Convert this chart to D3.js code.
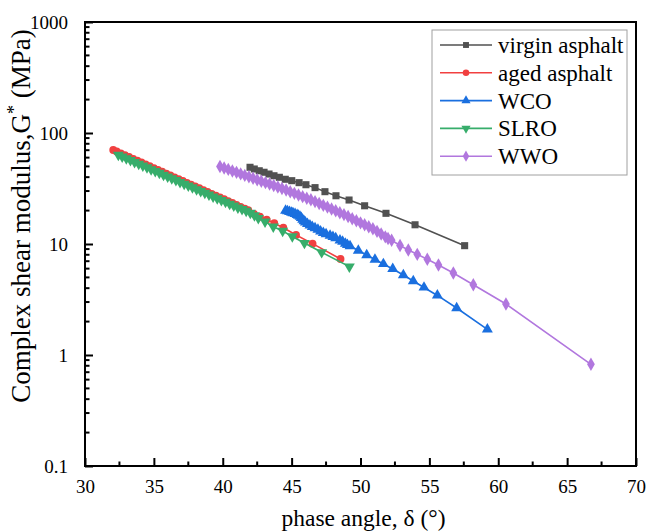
<!DOCTYPE html>
<html>
<head>
<meta charset="utf-8">
<script src="https://cdn.jsdelivr.net/npm/d3@7"></script>
<style>
  body { margin: 0; background: #fff; }
  svg { display: block; }
  text { font-family: "Liberation Serif", "Times New Roman", serif; fill: #000; }
</style>
</head>
<body>
<svg width="648" height="531"></svg>
<script>
// values
const virginX = [41.98, 42.29, 42.65, 43.0, 43.36, 43.72, 44.11, 44.54, 45.01, 45.54, 46.04, 46.7, 47.42, 48.22, 49.17, 50.3, 51.85, 53.96, 57.56]
const virginY = [49.1, 47.4, 45.7, 44.3, 42.7, 41.2, 39.9, 38.3, 37.2, 35.7, 34.2, 32.2, 29.6, 27.2, 24.9, 22.1, 18.9, 14.9, 9.66]

const agedX = [32.05, 32.3, 32.6, 32.9, 33.2, 33.5, 33.8, 34.1, 34.4, 34.7, 35.0, 35.3, 35.6, 35.9, 36.2, 36.5, 36.8, 37.1, 37.4, 37.7, 38.0, 38.3, 38.6, 38.9, 39.2, 39.5, 39.8, 40.1, 40.4, 40.7, 41.0, 41.3, 41.6, 41.85, 42.27, 42.7, 43.19, 43.74, 44.4, 45.32, 46.52, 48.55]
const agedY = [70.3, 68.1, 65.6, 63.1, 60.8, 58.5, 56.3, 54.2, 52.1, 50.2, 48.3, 46.5, 44.8, 43.1, 41.5, 39.9, 38.4, 37.0, 35.6, 34.3, 33.0, 31.8, 30.6, 29.4, 28.3, 27.3, 26.3, 25.3, 24.3, 23.4, 22.5, 21.6, 20.8, 20.2, 18.7, 17.6, 16.6, 15.4, 14.0, 12.05, 10.07, 7.33]

const wcoX = [44.56, 44.7, 44.85, 45.0, 45.1, 45.25, 45.4, 45.5, 45.61, 45.7, 45.8, 45.9, 46.0, 46.15, 46.33, 46.5, 46.7, 46.91, 47.1, 47.3, 47.5, 47.79, 48.0, 48.2, 48.51, 48.7, 48.9, 49.05, 49.24, 49.84, 50.45, 51.05, 51.66, 52.34, 53.11, 53.83, 54.61, 55.58, 56.98, 59.21]
const wcoY = [20.0, 19.8, 19.5, 19.2, 19.0, 18.7, 18.3, 18.0, 17.7, 17.2, 16.6, 16.1, 15.7, 15.2, 14.7, 14.3, 13.9, 13.5, 13.0, 12.6, 12.3, 11.9, 11.6, 11.3, 10.8, 10.5, 10.1, 9.85, 9.59, 8.74, 7.96, 7.25, 6.61, 5.96, 5.26, 4.64, 4.06, 3.44, 2.65, 1.70]

const slroX = [32.42, 32.7, 33.0, 33.3, 33.6, 33.9, 34.2, 34.5, 34.8, 35.1, 35.4, 35.7, 36.0, 36.3, 36.6, 36.9, 37.2, 37.5, 37.8, 38.1, 38.4, 38.7, 39.0, 39.3, 39.6, 39.9, 40.2, 40.5, 40.8, 41.1, 41.4, 41.7, 42.0, 42.3, 42.58, 43.07, 43.67, 44.35, 45.05, 45.93, 47.18, 49.19]
const slroY = [63.4, 61.2, 58.9, 56.8, 54.7, 52.6, 50.7, 48.9, 47.0, 45.3, 43.6, 42.0, 40.5, 39.0, 37.5, 36.1, 34.8, 33.5, 32.3, 31.1, 29.9, 28.8, 27.8, 26.7, 25.8, 24.8, 23.9, 23.0, 22.2, 21.3, 20.6, 19.9, 19.1, 18.1, 17.1, 15.9, 14.3, 13.1, 11.7, 10.2, 8.42, 6.25]

const wwoX = [39.8, 40.1, 40.4, 40.7, 41.0, 41.3, 41.6, 41.9, 42.2, 42.5, 42.8, 43.1, 43.4, 43.7, 44.0, 44.3, 44.6, 44.9, 45.2, 45.5, 45.8, 46.1, 46.4, 46.7, 47.0, 47.3, 47.6, 47.9, 48.2, 48.5, 48.8, 49.1, 49.4, 49.7, 50.0, 50.3, 50.6, 50.9, 51.2, 51.5, 51.8, 52.0, 52.26, 52.87, 53.47, 54.12, 54.85, 55.66, 56.74, 58.19, 60.56, 66.73]
const wwoY = [49.9, 48.4, 47.0, 45.5, 44.2, 42.8, 41.5, 40.3, 39.1, 37.9, 36.8, 35.7, 34.7, 33.6, 32.6, 31.6, 30.6, 29.6, 28.6, 27.6, 26.7, 25.8, 25.0, 24.1, 23.2, 22.3, 21.5, 20.7, 19.9, 19.1, 18.4, 17.7, 16.9, 16.2, 15.5, 14.9, 14.3, 13.7, 13.0, 12.3, 11.6, 11.2, 10.8, 9.69, 8.83, 8.07, 7.28, 6.47, 5.48, 4.30, 2.88, 0.824]

const seriesNames = ["virgin asphalt", "aged asphalt", "WCO", "SLRO", "WWO"]
const seriesColors = ["#515151", "#F14040", "#1A6FDF", "#37AD6B", "#B177DE"]

const xTicks = [30, 35, 40, 45, 50, 55, 60, 65, 70]
const yTicks = [0.1, 1, 10, 100, 1000]

const margin = { top: 22, right: 12, bottom: 65, left: 85 },
    width = 648 - margin.left - margin.right,
    height = 531 - margin.top - margin.bottom;

const x = d3.scaleLinear().domain([30, 70]).range([0, width]);
const y = d3.scaleLog().domain([0.1, 1000]).range([height, 0]);

const series = [
    { xs: virginX, ys: virginY, sym: d3.symbolSquare, size: 50, rot: 0 },
    { xs: agedX, ys: agedY, sym: d3.symbolCircle, size: 48, rot: 0 },
    { xs: wcoX, ys: wcoY, sym: d3.symbolTriangle, size: 52, rot: 0 },
    { xs: slroX, ys: slroY, sym: d3.symbolTriangle, size: 52, rot: 180 },
    { xs: wwoX, ys: wwoY, sym: d3.symbolDiamond, size: 52, rot: 0 }
].map((s, i) => Object.assign(s, {
    name: seriesNames[i],
    color: seriesColors[i],
    points: s.xs.map((v, j) => ({ x: v, y: s.ys[j] }))
}));

const svg = d3.select("svg")
    .append("g")
    .attr("transform", "translate(" + margin.left + "," + margin.top + ")");

const line = d3.line()
    .x(d => x(d.x))
    .y(d => y(d.y));

// curves and markers
series.forEach(s => {
    const g = svg.append("g");
    g.append("path")
        .datum(s.points)
        .attr("fill", "none")
        .attr("stroke", s.color)
        .attr("stroke-width", 1.6)
        .attr("d", line);
    g.selectAll("path.pt")
        .data(s.points)
        .enter().append("path")
        .attr("class", "pt")
        .attr("fill", s.color)
        .attr("transform", d => "translate(" + x(d.x) + "," + y(d.y) + ") rotate(" + s.rot + ")")
        .attr("d", d3.symbol().type(s.sym).size(s.size));
});

// axes: ticks point inward
const xMinor = d3.range(32.5, 70, 5);
const yMinor = [];
[0.1, 1, 10, 100].forEach(p => d3.range(2, 10).forEach(k => yMinor.push(p * k)));

const bottomAxis = svg.append("g")
    .attr("transform", "translate(0," + height + ")")
    .call(d3.axisBottom(x).tickValues(xTicks).tickSizeInner(-8).tickSizeOuter(0).tickPadding(14));
bottomAxis.append("g")
    .selectAll("line")
    .data(xMinor)
    .enter().append("line")
    .attr("x1", d => x(d)).attr("x2", d => x(d))
    .attr("y1", 0).attr("y2", -4.5)
    .attr("stroke", "#000").attr("stroke-width", 2);

const leftAxis = svg.append("g")
    .call(d3.axisLeft(y).tickValues(yTicks).tickFormat(d3.format("~g")).tickSizeInner(-8).tickSizeOuter(0).tickPadding(17));
leftAxis.append("g")
    .selectAll("line")
    .data(yMinor)
    .enter().append("line")
    .attr("x1", 0).attr("x2", 4.5)
    .attr("y1", d => y(d)).attr("y2", d => y(d))
    .attr("stroke", "#000").attr("stroke-width", 2);

svg.selectAll(".tick line").attr("stroke-width", 2);
svg.selectAll(".domain").remove();
svg.selectAll(".tick text")
    .style("font-family", "'Liberation Serif', serif")
    .style("font-size", "19px");

// frame
svg.append("rect")
    .attr("width", width)
    .attr("height", height)
    .attr("fill", "none")
    .attr("stroke", "#000")
    .attr("stroke-width", 2);

// axis titles
svg.append("text")
    .attr("x", width / 2 + 3)
    .attr("y", height + 60)
    .attr("text-anchor", "middle")
    .style("font-size", "23.5px")
    .text("phase angle, \u03b4 (\u00b0)");

const yTitle = svg.append("text")
    .attr("transform", "translate(-55," + (height / 2 - 28) + ") rotate(-90)")
    .attr("text-anchor", "middle")
    .style("font-size", "27px");
yTitle.append("tspan").text("Complex shear modulus,G");
yTitle.append("tspan").attr("dy", -10).style("font-size", "18px").text("*");
yTitle.append("tspan").attr("dy", 10).text(" (MPa)");

// legend
const legend = svg.append("g")
    .attr("transform", "translate(" + (432 - margin.left) + "," + (30 - margin.top) + ")");
legend.append("rect")
    .attr("width", 195)
    .attr("height", 145)
    .attr("fill", "#fff")
    .attr("stroke", "#a0a0a0")
    .attr("stroke-width", 1);

series.forEach((s, i) => {
    const row = legend.append("g")
        .attr("transform", "translate(0," + (15 + i * 27.8) + ")");
    row.append("line")
        .attr("x1", 8).attr("x2", 60)
        .attr("stroke", s.color).attr("stroke-width", 1.6);
    row.append("path")
        .attr("fill", s.color)
        .attr("transform", "translate(34,0) rotate(" + s.rot + ")")
        .attr("d", d3.symbol().type(s.sym).size(s.size * 0.7));
    row.append("text")
        .attr("x", 66)
        .attr("y", 8)
        .style("font-size", "23px")
        .text(s.name);
});
</script>
</body>
</html>
